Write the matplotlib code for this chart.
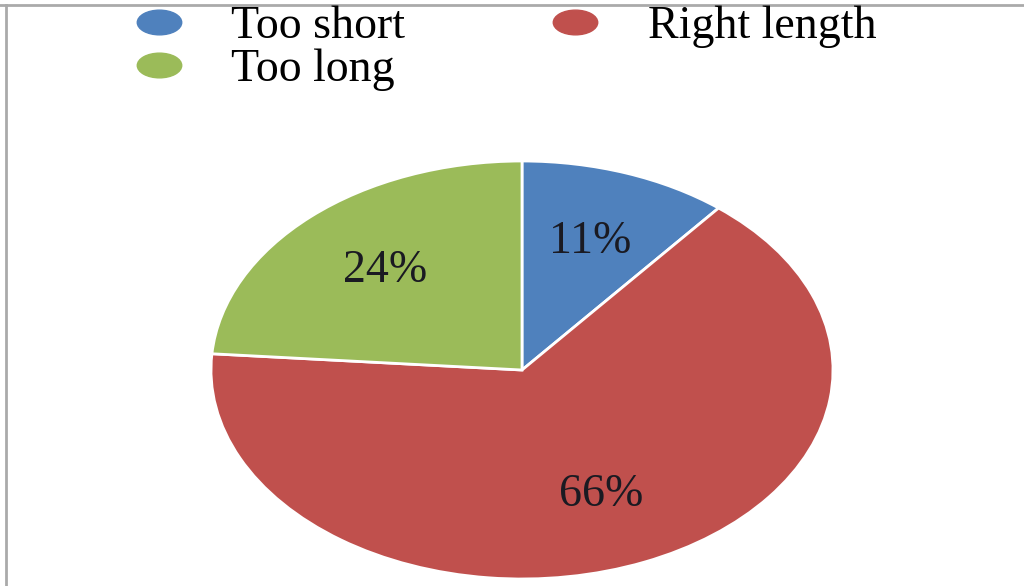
import matplotlib
matplotlib.use("Agg")
import matplotlib.pyplot as plt
from matplotlib.lines import Line2D
from matplotlib.path import Path
from matplotlib.transforms import Affine2D

categories = ["Too short", "Right length", "Too long"]
values = [11, 66, 24]
colors = ["#4F81BD", "#C0504D", "#9BBB59"]
pct_labels = [f"{v}%" for v in values]

plt.rcParams["font.family"] = ["Liberation Serif", "DejaVu Serif"]

fig = plt.figure(figsize=(10.24, 5.86), dpi=100)
ax = fig.add_axes([211/1024, 7/586, 622/1024, 418/586])
wedges, texts = ax.pie(values, labels=pct_labels, colors=colors, startangle=90,
                       counterclock=False, labeldistance=0.65,
                       wedgeprops=dict(edgecolor="white", linewidth=2),
                       textprops=dict(fontsize=33, color="#1a1a22", ha="center", va="center"))
ax.set_aspect("auto")
ax.set_xlim(-1, 1)
ax.set_ylim(-1, 1)
ax.axis("off")

ellipse = Path(Affine2D().scale(1.8, 1.0).transform(Path.unit_circle().vertices),
               Path.unit_circle().codes)
order = [0, 2, 1]
handles = [Line2D([], [], linestyle="none", marker=ellipse, markersize=32,
                  markerfacecolor=colors[i], markeredgecolor=colors[i])
           for i in order]
labels = [categories[i] for i in order]
fig.legend(handles, labels, ncol=2, loc="upper left", bbox_to_anchor=(99/1024, 1.0 + 17/586),
           frameon=False, fontsize=33, handlelength=1.6, handletextpad=0.79,
           columnspacing=2.9, labelspacing=0.0, borderpad=0.0)

# frame lines (page border)
fig.add_artist(Line2D([0, 1], [1 - 5/586, 1 - 5/586], transform=fig.transFigure,
                      color="#aaaaaa", linewidth=2))
fig.add_artist(Line2D([6/1024, 6/1024], [0, 1 - 5/586], transform=fig.transFigure,
                      color="#aaaaaa", linewidth=2))

fig.savefig("out.png", dpi=100)
